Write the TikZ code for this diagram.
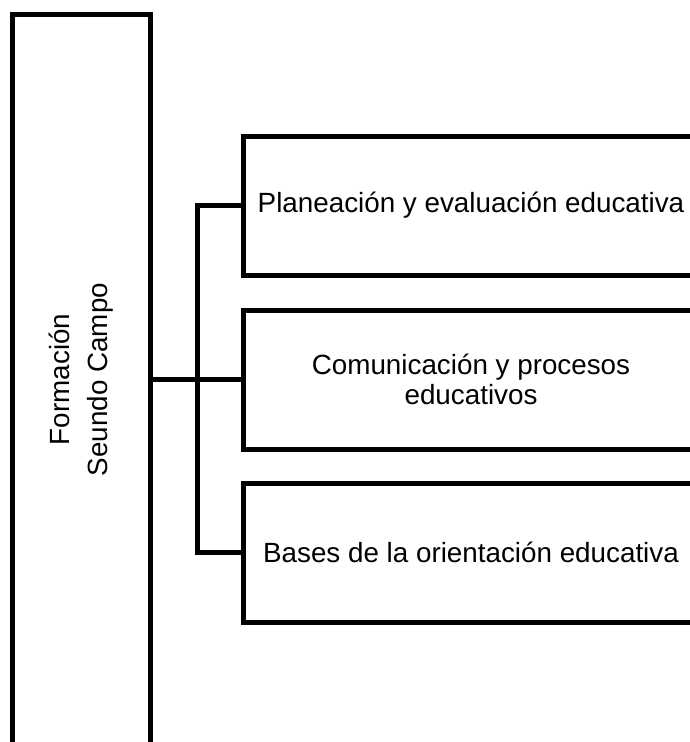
\documentclass[tikz,border=0pt]{standalone}
\usepackage{fontspec}
\setmainfont{Liberation Sans}

\begin{document}
\begin{tikzpicture}[x=1pt, y=-1pt,
    every node/.style={font=\fontsize{27.8}{30}\selectfont},
    campo/.style={draw, line width=5pt, inner sep=0pt, minimum width=456pt, minimum height=139pt, align=center},
    enlace/.style={line width=5pt}]
    \useasboundingbox (0,0) rectangle (690,742);
    \clip (0,0) rectangle (690,742);

			% Nodes
			\node[draw, line width=5pt, inner sep=0pt, minimum width=138pt, minimum height=731pt] (formacion) at (81,379.5)
			  {\rotatebox{90}{\fontsize{27.8}{38}\selectfont\begin{tabular}{c}Formación\\Seundo Campo\end{tabular}}};
			\node[campo] (planeacion) at (471,205.5) {Planeación y evaluación educativa};
			\node[campo] (comunicacion) at (471,379.5) {Comunicación y procesos\\educativos};
			\node[campo] (bases) at (471,552.5) {Bases de la orientación educativa};
			\coordinate (bus) at (197,379.5);

			% Links
			\draw[enlace] (formacion.east |- comunicacion.west) -- (comunicacion.west);
			\draw[enlace] (planeacion.west) -| (bus) |- (bases.west);
		\end{tikzpicture}
\end{document}
